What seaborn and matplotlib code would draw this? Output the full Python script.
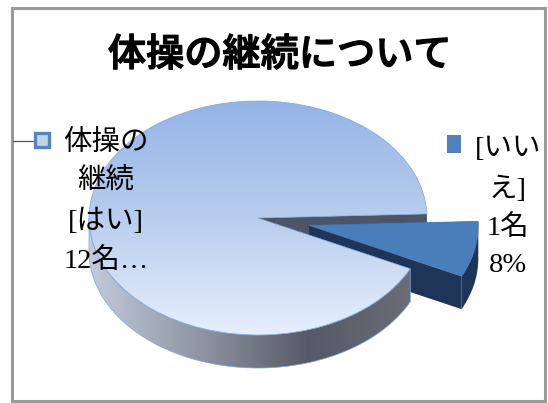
import numpy as np
import matplotlib
matplotlib.use("Agg")
import matplotlib.pyplot as plt
import matplotlib.patheffects as pe
from matplotlib.patches import Polygon, Rectangle
import seaborn as sns

# Survey counts
categories = ["はい", "いいえ"]
counts = [12, 1]
title_text = "体操の継続について"
label_yes = ["体操の", "継続", "[はい]", "12名…"]
label_no = ["[いい", "え]", "1名", "8%"]
explode = [0, 0.31]

sns.set_theme(style="white")
SERIF = ["Liberation Serif", "Noto Sans CJK JP"]
plt.rcParams["font.family"] = ["Noto Sans CJK JP", "DejaVu Sans"]

W, H = 548, 403
fig = plt.figure(figsize=(W / 100, H / 100), dpi=100, facecolor="white")

# Elliptical pie: one data unit is 169 px across and 117 px down
RX, RY = 169, 117
CX, CY = 258, 218
START = 2
XL, YT, YB = 1.5, 1.25, 1.5
ax = fig.add_axes([(CX - XL * RX) / W, 1 - (CY + YB * RY) / H,
                   2 * XL * RX / W, (YT + YB) * RY / H])
wedges, _ = ax.pie(counts, explode=explode, startangle=START, radius=1,
                   wedgeprops={"linewidth": 0})
DEPTH = 33 / RY

top_cmap = sns.blend_palette(["#94b4e6", "#b9cdee", "#e6effc"], as_cmap=True)
wall_cmap = sns.blend_palette(["#c2cbdb", "#8f95a3", "#565a66", "#6c6e78"], as_cmap=True)
EXT = (-XL, XL, -YB, YT)


def rim_band(center, a0, a1):
    # Outer side of a slice: rim arc on top, the same arc lowered underneath
    t = np.radians(np.linspace(a0, a1, 80))
    x = center[0] + np.cos(t)
    y = center[1] + np.sin(t)
    return np.r_[np.c_[x, y], np.c_[x, y - DEPTH][::-1]]


def cut_band(center, a):
    # Flat cut face of a slice running from its vertex to the rim
    t = np.radians(a)
    c = np.array(center)
    p = c + [np.cos(t), np.sin(t)]
    d = np.array([0, -DEPTH])
    return np.array([c, p, p + d, c + d])


def gradient(cmap, patch, z, horizontal=False, span=None):
    g = np.linspace(0, 1, 256)
    img = g[None, :] if horizontal else g[:, None]
    im = ax.imshow(img, cmap=cmap, extent=span or EXT, origin="upper" if not horizontal else "lower",
                   aspect="auto", zorder=z, interpolation="bilinear")
    im.set_clip_path(patch)


angle_yes = 360 * counts[0] / sum(counts) + START
end_no = 360 + START
yes, no = wedges
edge = "#7ea3d8"

# Back cut face of the large slice, visible through the gap
ax.add_patch(Polygon(cut_band(yes.center, START), fc="#4c5468", ec="none", zorder=1))

# Small slice: dark sides, then the face
dark = "#1f3557"
ax.add_patch(Polygon(rim_band(no.center, angle_yes, end_no), fc=dark, ec="none", zorder=2))
ax.add_patch(Polygon(cut_band(no.center, angle_yes), fc=dark, ec="none", zorder=2))
ax.add_patch(Polygon(cut_band(no.center, START), fc=dark, ec="none", zorder=2))
no.set(facecolor="#4a7ebb", edgecolor="#4a7ebb", linewidth=0.5, zorder=3)

# Large slice: shaded front wall, then the gradient face
wall = Polygon(rim_band(yes.center, 180, angle_yes), fc="none", ec=edge, lw=0.5, zorder=4.5)
ax.add_patch(wall)
gradient(wall_cmap, wall, 4, horizontal=True, span=(-1, 0.95, -YB, YT))
yes.set(facecolor="none", edgecolor=edge, linewidth=0.5, zorder=5.5)
gradient(top_cmap, yes, 5, span=(-1, 1, -1, 1))

ax.set_aspect("auto")
ax.set_xlim(-XL, XL)
ax.set_ylim(-YB, YT)
ax.patch.set_alpha(0)
ax.set_axis_off()

# Overlay in pixel units for the title, callouts and frame
ov = fig.add_axes([0, 0, 1, 1], zorder=10)
ov.set_xlim(0, W)
ov.set_ylim(H, 0)
ov.set_axis_off()
ov.patch.set_alpha(0)

ov.add_patch(Rectangle((12, 8), 533, 393, fc="none", ec="#9a9a9a", lw=2.2))
ov.text(280, 55, title_text, fontsize=27.5, fontweight="medium", color="black",
        ha="center", va="center", family=["Noto Sans CJK JP", "DejaVu Sans"],
        path_effects=[pe.withStroke(linewidth=0.9, foreground="black")])

ov.plot([13, 33], [141, 141], color="#555555", lw=0.9)
ov.add_patch(Rectangle((34.5, 132.5), 14, 14, fc="#c5d3ea", ec="#5585c0", lw=2.4))
ov.add_patch(Rectangle((447, 135), 14, 18, fc="#4f81bd", ec="none"))

for s, y in zip(label_yes, [143, 182, 222, 261]):
    ov.text(106, y, s, fontsize=20.5, color="black", ha="center", va="center", family=SERIF)
for s, y in zip(label_no, [150, 190, 228, 265]):
    ov.text(508, y, s, fontsize=20.5, color="black", ha="center", va="center", family=SERIF)

fig.savefig("out.png", dpi=100, facecolor="white")
